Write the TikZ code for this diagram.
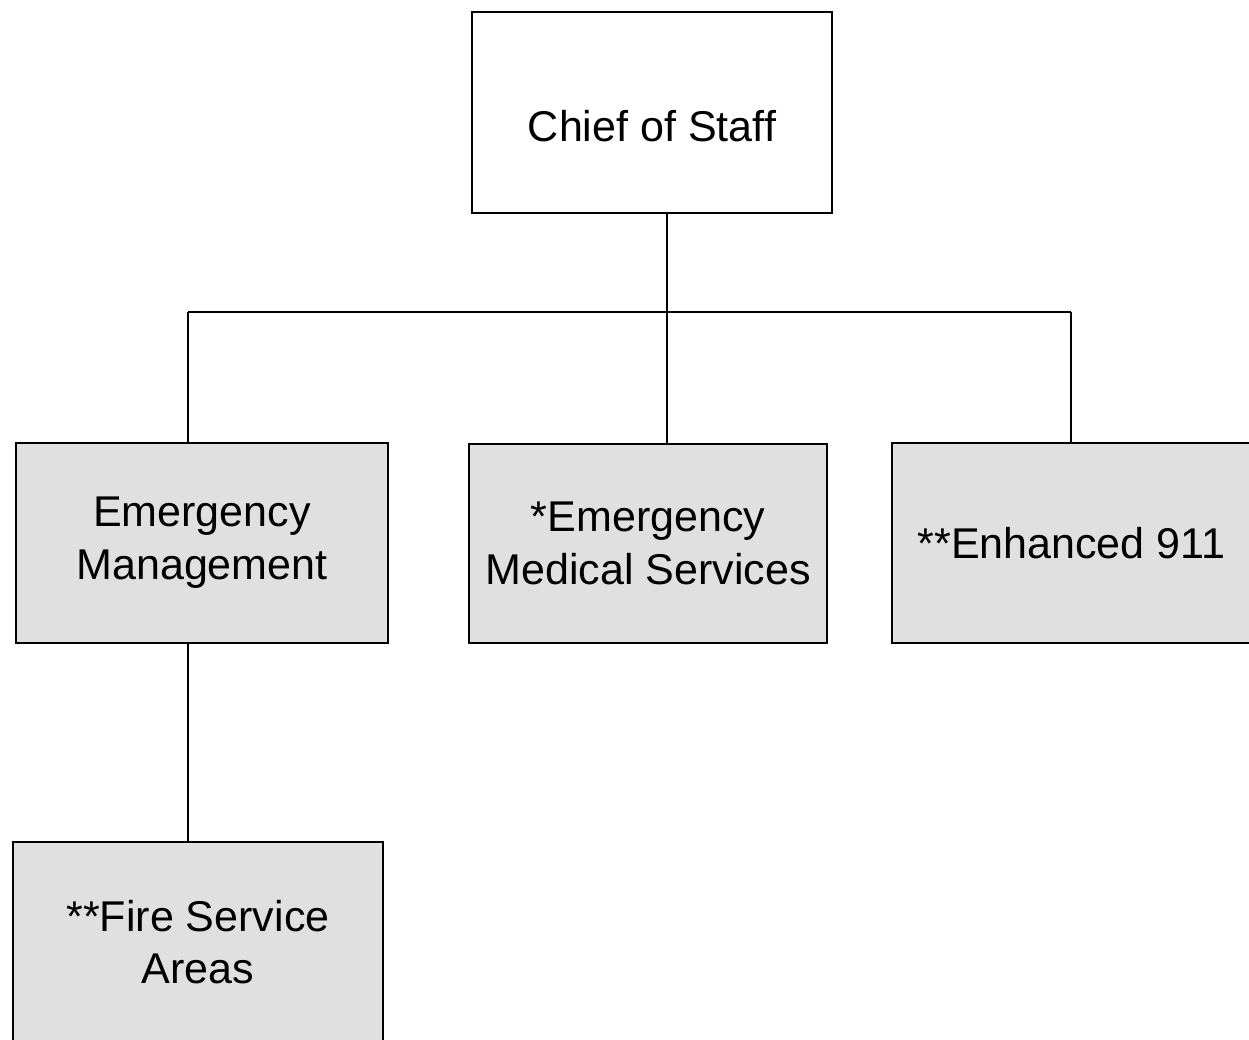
\documentclass[tikz,border=0pt]{standalone}
\usepackage{fontspec}
\setmainfont{Liberation Sans}
\usepackage{tikz}
\usetikzlibrary{calc}

\tikzset{
  unitbox/.style={draw=black, line width=1.3pt, fill=black!12, align=center,
    inner sep=0pt, font=\fontsize{24.5}{30}\selectfont},
  headbox/.style={unitbox, fill=white, text height=33pt, text depth=0.5pt},
  link/.style={line width=1.1pt}
}

\begin{document}
\begin{tikzpicture}[x=0.02cm, y=-0.02cm]
    \useasboundingbox (0,0) rectangle (1249,1040);
    \clip (0,0) rectangle (1249,1040);
    \node (chief) at (652,112.5) [headbox, minimum width=7.2cm, minimum height=4.02cm] {Chief of Staff};
    \node (emgmt) at (202,543) [unitbox, minimum width=7.44cm, minimum height=4cm] {Emergency\\Management};
    \node (ems) at (648,543.5) [unitbox, minimum width=7.16cm, minimum height=3.98cm] {*Emergency\\Medical Services};
    \node (e911) at (1071.5,543) [unitbox, minimum width=7.18cm, minimum height=4cm] {**Enhanced 911};
    \node (fire) at (198,942) [unitbox, minimum width=7.4cm, minimum height=4cm] {**Fire Service\\Areas};
    \coordinate (trunk) at (667,312);
    \coordinate (leftbus) at (188,312);
    \coordinate (rightbus) at (1071,312);
    \draw[link] (chief.south -| trunk) -- (ems.north -| trunk);
    \draw[link] (leftbus) -- (rightbus);
    \draw[link] (leftbus) -- (emgmt.north -| leftbus);
    \draw[link] (rightbus) -- (e911.north -| rightbus);
    \draw[link] (emgmt.south -| leftbus) -- (fire.north -| leftbus);
  \end{tikzpicture}
\end{document}
